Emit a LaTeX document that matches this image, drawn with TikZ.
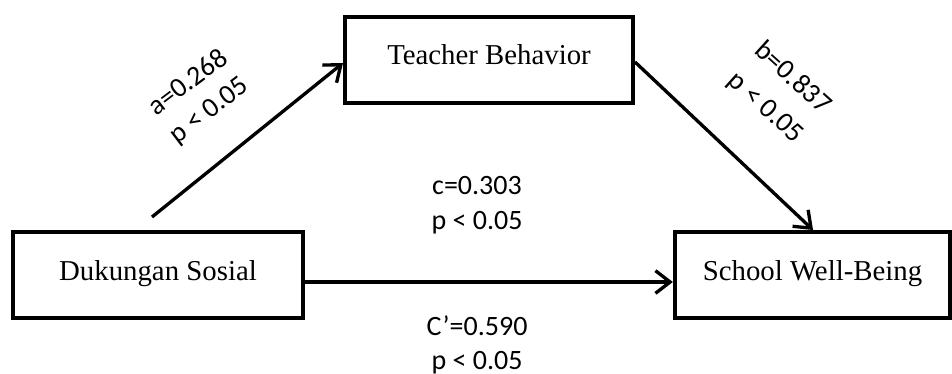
\documentclass[tikz,border=0pt]{standalone}
\usepackage{fontspec}
\setmainfont{Liberation Serif}
\newfontfamily\lblfont{Carlito}
\usetikzlibrary{arrows.meta}
\tikzset{
  box/.style={draw, line width=3pt, inner sep=0pt, minimum height=64.5pt, font=\fontsize{21.6pt}{25pt}\selectfont},
  conn/.style={line width=2.5pt, -{Straight Barb[length=11pt,width=17pt,line width=2.5pt]}},
  lbl/.style={align=center, inner sep=0pt, font=\lblfont\fontsize{21pt}{26pt}\selectfont}
}
\begin{document}
\begin{tikzpicture}[x=0.75pt,y=-0.75pt]
\useasboundingbox (0,0) rectangle (952,374);
\node[box, minimum width=217.5pt] (ds) at (158,275) {\raisebox{7pt}{Dukungan Sosial}};
\node[box, minimum width=206.5pt] (sw) at (812.5,275) {\raisebox{7pt}{School Well-Being}};
\node[box, minimum width=216pt] (tb) at (489,60) {\raisebox{8pt}{Teacher Behavior}};
\coordinate (astart) at (152,217);
\draw[conn] (astart) -- (tb.west |- 0,63);
\draw[conn] (tb.east |- 0,62) -- (sw.north -| 813,0);
\draw[conn] (ds.east |- 0,282) -- (sw.west |- 0,282);
\node[lbl, rotate=37] (la) at (199,97) {a=0.268\\p < 0.05};
\node[lbl, rotate=-42, font=\lblfont\fontsize{21pt}{30pt}\selectfont] (lb) at (779,93) {b=0.837\\p < 0.05};
\node[lbl] (lc) at (477,205) {c=0.303\\p < 0.05};
\node[lbl] (lcp) at (477,345) {C’=0.590\\p < 0.05};
\end{tikzpicture}
\end{document}
